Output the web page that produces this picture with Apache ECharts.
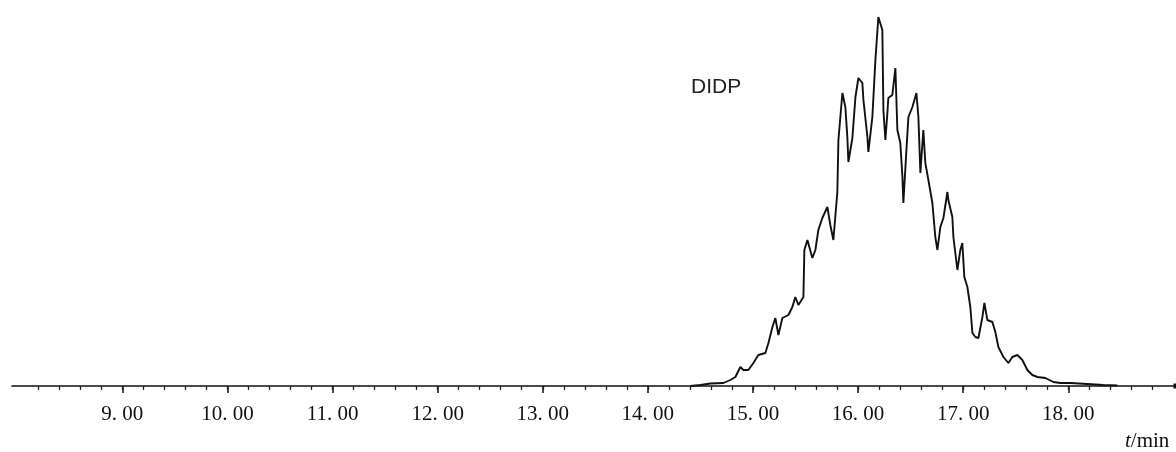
<!DOCTYPE html>
<html>
<head>
<meta charset="utf-8">
<script src="https://cdn.jsdelivr.net/npm/echarts@6/dist/echarts.min.js"></script>
<style>
  html, body { margin: 0; padding: 0; background: #fff; }
  #chart { width: 1176px; height: 452px; }
</style>
</head>
<body>
<div id="chart"></div>
<script>
// Retention time (min) of the DIDP chromatogram trace
const retentionTimes = [
  14.404, 14.500, 14.595, 14.718, 14.785, 14.833, 14.880, 14.909, 14.956, 15.004,
  15.051, 15.118, 15.147, 15.185, 15.213, 15.242, 15.280, 15.337, 15.375, 15.403,
  15.432, 15.480, 15.489, 15.518, 15.565, 15.594, 15.622, 15.660, 15.708, 15.736,
  15.765, 15.803, 15.813, 15.851, 15.879, 15.898, 15.908, 15.946, 15.975, 16.003,
  16.041, 16.051, 16.089, 16.098, 16.136, 16.165, 16.193, 16.231, 16.241, 16.260,
  16.279, 16.288, 16.326, 16.355, 16.374, 16.402, 16.422, 16.431, 16.460, 16.479,
  16.517, 16.555, 16.574, 16.593, 16.621, 16.640, 16.669, 16.707, 16.735, 16.755,
  16.783, 16.812, 16.850, 16.859, 16.897, 16.907, 16.945, 16.973, 16.992, 17.011,
  17.040, 17.068, 17.088, 17.116, 17.145, 17.183, 17.202, 17.230, 17.278, 17.306,
  17.335, 17.383, 17.430, 17.468, 17.516, 17.563, 17.611, 17.658, 17.706, 17.782,
  17.858, 17.925, 18.020, 18.182, 18.334, 18.467
];

// Detector response (arbitrary units) at each retention time
const responses = [
  0, 1, 2.5, 3, 6, 9, 19, 16, 16, 23,
  31, 33, 43, 59, 68, 51, 68, 71, 79, 89,
  81, 89, 136, 146, 128, 136, 156, 168, 179, 161,
  146, 194, 246, 293, 279, 249, 224, 248, 289, 308,
  303, 286, 249, 234, 269, 326, 369, 356, 276, 246,
  273, 288, 291, 318, 256, 243, 209, 183, 236, 269,
  279, 293, 269, 213, 256, 223, 206, 183, 149, 136,
  159, 168, 194, 186, 169, 149, 116, 136, 143, 109,
  99, 79, 53, 49, 48, 69, 83, 66, 64, 54,
  39, 29, 23, 29, 31, 26, 16, 11, 9, 8,
  4, 3, 3, 2, 1, 0.5
];

// Labelled major ticks (min) and their texts
const majorTicks = [9, 10, 11, 12, 13, 14, 15, 16, 17, 18];
const tickLabels = ['9. 00', '10. 00', '11. 00', '12. 00', '13. 00',
                    '14. 00', '15. 00', '16. 00', '17. 00', '18. 00'];

// Minor ticks every 0.2 min
const minorTicks = [];
for (let k = 41; k <= 94; k++) minorTicks.push(+(k * 0.2).toFixed(1));

const peakName = 'DIDP';

const xMin = 7.95, xMax = 19.025;
const labelOf = {};
majorTicks.forEach((v, i) => { labelOf[v] = tickLabels[i]; });

const chart = echarts.init(document.getElementById('chart'));

const baseAxis = {
  type: 'value',
  min: xMin,
  max: xMax,
  position: 'bottom',
  splitLine: { show: false }
};

chart.setOption({
  animation: false,
  backgroundColor: '#ffffff',
  grid: { left: 12, right: 0, top: 6, bottom: 66 },
  xAxis: [
    Object.assign({}, baseAxis, {
      axisLine: {
        show: true,
        lineStyle: { color: '#111', width: 1.6 },
        symbol: ['none', 'rect'],
        symbolSize: [5, 5]
      },
      axisTick: {
        show: true,
        customValues: majorTicks,
        length: 7,
        lineStyle: { color: '#111', width: 1.5 }
      },
      axisLabel: {
        show: true,
        customValues: majorTicks,
        formatter: v => labelOf[Math.round(v)] || '',
        margin: 18,
        color: '#111',
        fontFamily: 'Liberation Serif',
        fontSize: 21
      }
    }),
    Object.assign({}, baseAxis, {
      axisLine: { show: false },
      axisTick: {
        show: true,
        customValues: minorTicks,
        length: 4,
        lineStyle: { color: '#222', width: 1.3 }
      },
      axisLabel: { show: false }
    })
  ],
  yAxis: {
    type: 'value',
    min: 0,
    max: 380,
    show: false
  },
  series: [{
    type: 'line',
    xAxisIndex: 0,
    data: retentionTimes.map((t, i) => [t, responses[i]]),
    showSymbol: false,
    symbol: 'none',
    lineStyle: { color: '#111', width: 1.9 },
    z: 3
  }],
  graphic: [
    {
      type: 'text',
      left: 691,
      top: 77,
      style: {
        text: peakName,
        fill: '#222',
        font: '21px "Liberation Sans"'
      }
    },
    {
      type: 'text',
      left: 1125,
      top: 431,
      style: {
        text: '{i|t}{n|/min}',
        rich: {
          i: { font: 'italic 21px "Liberation Serif"', fill: '#111' },
          n: { font: '21px "Liberation Serif"', fill: '#111' }
        }
      }
    }
  ]
});
</script>
</body>
</html>
